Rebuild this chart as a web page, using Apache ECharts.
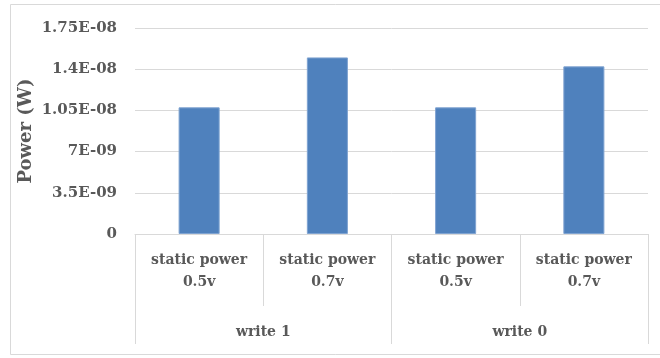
<!DOCTYPE html>
<html>
<head>
<meta charset="utf-8">
<script src="https://cdn.jsdelivr.net/npm/echarts@6/dist/echarts.min.js"></script>
<style>html,body{margin:0;padding:0;background:#fff;}#c{width:660px;height:358px;}</style>
</head>
<body>
<div id="c"></div>
<script>
var categories = ['static power\n0.5v', 'static power\n0.7v', 'static power\n0.5v', 'static power\n0.7v'];
var groups = ['write 1', 'write 0'];
var powerValues = [1.076e-8, 1.50e-8, 1.076e-8, 1.424e-8];
var yTickLabels = ['0', '3.5E-09', '7E-09', '1.05E-08', '1.4E-08', '1.75E-08'];
var yInterval = 3.5e-9;
var yMax = 1.75e-8;
var yTitle = 'Power (W)';

var font = 'DejaVu Serif';
var txt = '#595959';
var lineC = '#d9d9d9';

var chart = echarts.init(document.getElementById('c'));
chart.setOption({
  animation: false,
  graphic: [{
    type: 'rect', shape: {x: 10.5, y: 4.5, width: 660, height: 350},
    style: {fill: 'none', stroke: '#d9d9d9', lineWidth: 1}, silent: true
  }],
  grid: {left: 135, right: 12, top: 28, bottom: 124, containLabel: false},
  xAxis: [{
    type: 'category', data: categories, position: 'bottom',
    axisLine: {show: true, lineStyle: {color: lineC}},
    axisTick: {show: true, length: 72, lineStyle: {color: lineC}},
    axisLabel: {fontFamily: font, fontWeight: 'bold', fontSize: 14, color: txt, lineHeight: 22, margin: 15}
  }, {
    type: 'category', data: groups, position: 'bottom',
    axisLine: {show: false},
    axisTick: {show: true, length: 110, lineStyle: {color: lineC}},
    axisLabel: {fontFamily: font, fontWeight: 'bold', fontSize: 14, color: txt, margin: 91}
  }],
  yAxis: {
    type: 'value', min: 0, max: yMax, interval: yInterval,
    name: yTitle, nameLocation: 'middle', nameGap: 100, nameRotate: 90,
    nameMoveOverlap: false,
    nameTextStyle: {fontFamily: font, fontWeight: 'bold', fontSize: 18, color: txt},
    axisLine: {show: false}, axisTick: {show: false},
    splitLine: {lineStyle: {color: lineC, width: 1}},
    axisLabel: {
      fontFamily: font, fontWeight: 'bold', fontSize: 15, color: txt, margin: 18,
      formatter: function (v) { return yTickLabels[Math.round(v / yInterval)]; }
    }
  },
  series: [{
    type: 'bar', xAxisIndex: 0, data: powerValues, barWidth: '32%',
    itemStyle: {color: '#4f81bd', borderColor: '#7fa3d1', borderWidth: 1}
  }]
});
</script>
</body>
</html>
